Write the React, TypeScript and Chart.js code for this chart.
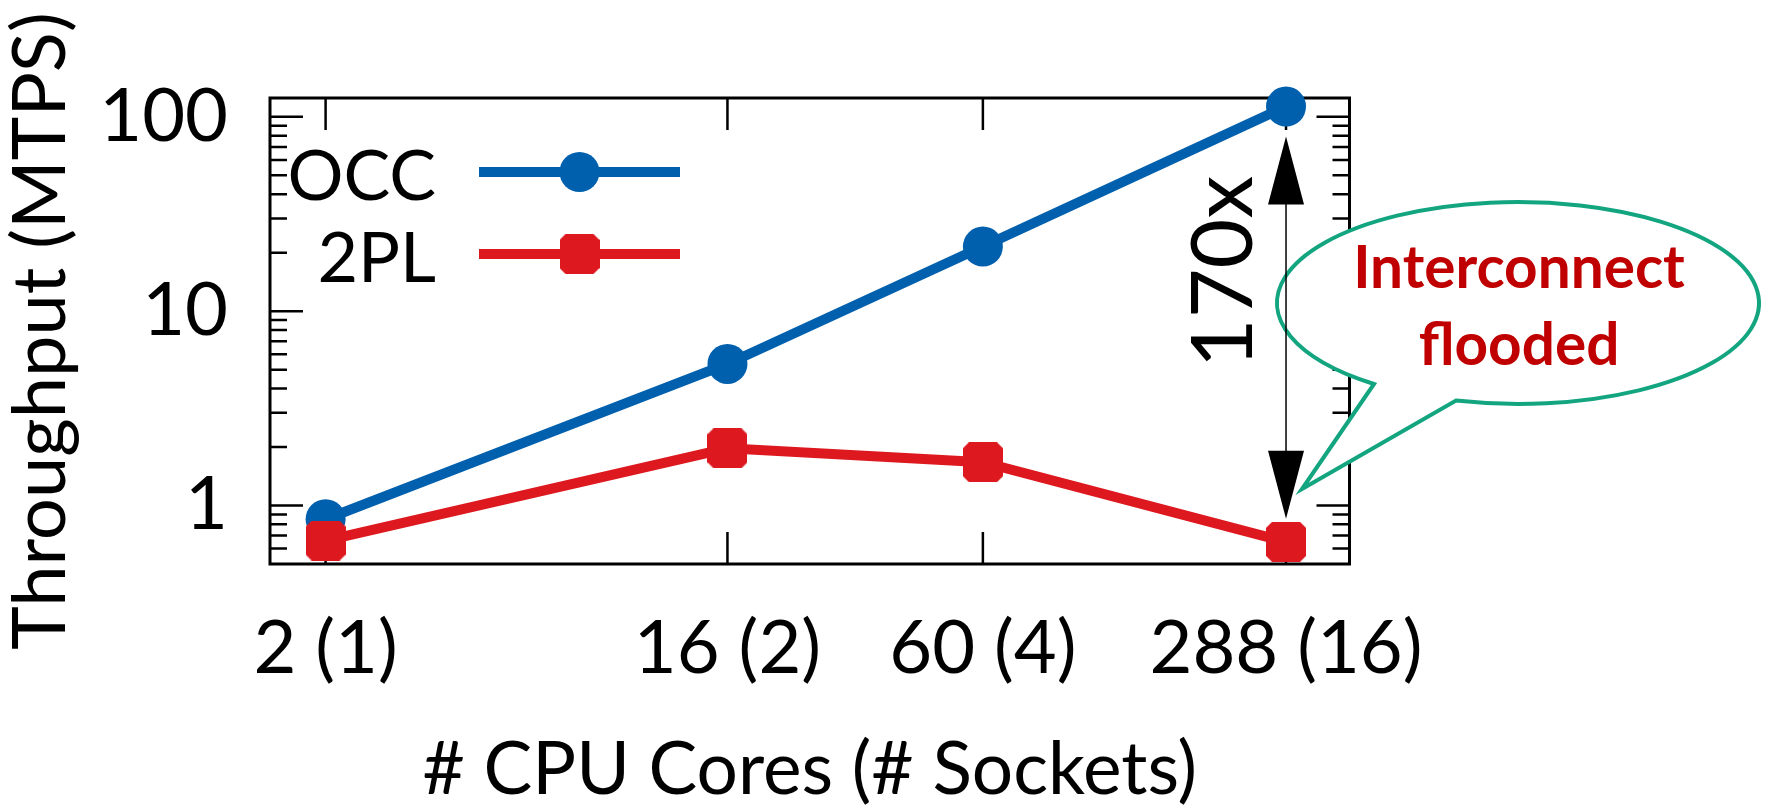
import { useEffect, useRef } from "react";
import { Chart, registerables } from "chart.js";

Chart.register(...registerables);

// Cores per configuration (x, log scale) and their tick labels
const CORES = [2, 16, 60, 288];
const CORE_LABELS = ["2 (1)", "16 (2)", "60 (4)", "288 (16)"];

// Throughput in million transactions per second
const OCC = [0.85, 5.35, 21.5, 113];
const TWO_PL = [0.66, 1.97, 1.67, 0.65];

const Y_TICKS = [1, 10, 100];
const Y_TICK_LABELS = ["1", "10", "100"];

const SERIES_NAMES = ["OCC", "2PL"];
const SPEEDUP_LABEL = "170x";
const CALLOUT_LINES = ["Interconnect", "flooded"];

const X_TITLE = "# CPU Cores (# Sockets)";
const Y_TITLE = "Throughput (MTPS)";

const BLUE = "#0060ad";
const RED = "#dd181f";
const CALLOUT_RED = "#c00000";
const CALLOUT_GREEN = "#13a57f";
const FONT = "Lato, 'Open Sans', sans-serif";

function makeSquareMarker(size: number, chamfer: number, color: string) {
  const c = document.createElement("canvas");
  c.width = size;
  c.height = size;
  const g = c.getContext("2d")!;
  g.fillStyle = color;
  g.beginPath();
  g.moveTo(chamfer, 0);
  g.lineTo(size - chamfer, 0);
  g.lineTo(size, chamfer);
  g.lineTo(size, size - chamfer);
  g.lineTo(size - chamfer, size);
  g.lineTo(chamfer, size);
  g.lineTo(0, size - chamfer);
  g.lineTo(0, chamfer);
  g.closePath();
  g.fill();
  return c;
}

function makeDecorPlugin(square: HTMLCanvasElement) {
  return {
    id: "decor",
    beforeDatasetsDraw(chart: any) {
      const { ctx, chartArea: a, scales } = chart;
      const x = scales.x;
      const y = scales.y;
      ctx.save();
      ctx.strokeStyle = "#000";
      ctx.lineWidth = 3;
      ctx.strokeRect(a.left, a.top, a.right - a.left, a.bottom - a.top);

      ctx.lineWidth = 2.5;
      ctx.beginPath();
      // major y ticks on both sides
      for (const v of Y_TICKS) {
        const py = y.getPixelForValue(v);
        ctx.moveTo(a.left, py);
        ctx.lineTo(a.left + 33, py);
        ctx.moveTo(a.right, py);
        ctx.lineTo(a.right - 33, py);
      }
      // minor y ticks
      for (const e of [-1, 0, 1, 2]) {
        for (let m = 2; m <= 9; m++) {
          const v = m * Math.pow(10, e);
          if (v <= y.min + 1e-9 || v >= y.max) continue;
          const py = y.getPixelForValue(v);
          ctx.moveTo(a.left, py);
          ctx.lineTo(a.left + 17, py);
          ctx.moveTo(a.right, py);
          ctx.lineTo(a.right - 17, py);
        }
      }
      // x ticks, bottom and top
      for (const v of CORES) {
        const px = x.getPixelForValue(v);
        ctx.moveTo(px, a.bottom);
        ctx.lineTo(px, a.bottom - 32);
        ctx.moveTo(px, a.top);
        ctx.lineTo(px, a.top + 32);
      }
      ctx.stroke();
      ctx.restore();
    },
    afterDatasetsDraw(chart: any) {
      const { ctx, scales } = chart;
      const x = scales.x;
      const y = scales.y;
      ctx.save();

      // legend
      const legendRows = [
        { name: SERIES_NAMES[0], color: BLUE, base: 200, line: 172, kind: "circle" },
        { name: SERIES_NAMES[1], color: RED, base: 282, line: 254, kind: "square" },
      ];
      ctx.font = `70px ${FONT}`;
      ctx.textAlign = "right";
      ctx.textBaseline = "alphabetic";
      for (const r of legendRows) {
        ctx.fillStyle = "#000";
        ctx.fillText(r.name, 436, r.base);
        ctx.strokeStyle = r.color;
        ctx.lineWidth = 10;
        ctx.beginPath();
        ctx.moveTo(479, r.line);
        ctx.lineTo(680, r.line);
        ctx.stroke();
        if (r.kind === "circle") {
          ctx.fillStyle = r.color;
          ctx.beginPath();
          ctx.arc(579.5, r.line, 20, 0, Math.PI * 2);
          ctx.fill();
        } else {
          ctx.drawImage(square, 579.5 - square.width / 2, r.line - square.height / 2);
        }
      }

      // speech bubble
      const cx = 1518;
      const cy = 303;
      const rx = 241;
      const ry = 101;
      const tA = (126.7 * Math.PI) / 180;
      const tB = (104.9 * Math.PI) / 180;
      ctx.beginPath();
      ctx.moveTo(1302, 489);
      ctx.lineTo(cx + rx * Math.cos(tB), cy + ry * Math.sin(tB));
      ctx.ellipse(cx, cy, rx, ry, 0, tB, tA, true);
      ctx.closePath();
      ctx.fillStyle = "#fff";
      ctx.fill();
      ctx.strokeStyle = CALLOUT_GREEN;
      ctx.lineWidth = 4;
      ctx.lineJoin = "miter";
      ctx.stroke();

      ctx.fillStyle = CALLOUT_RED;
      ctx.font = `bold 58.5px ${FONT}`;
      ctx.textAlign = "center";
      ctx.fillText(CALLOUT_LINES[0], 1519, 288);
      ctx.fillText(CALLOUT_LINES[1], 1519, 365);

      // double-headed arrow between the two 288-core points
      const ax = x.getPixelForValue(CORES[3]);
      const yTop = y.getPixelForValue(OCC[3]) + 30;
      const yBot = y.getPixelForValue(TWO_PL[3]) - 23;
      ctx.strokeStyle = "#000";
      ctx.fillStyle = "#000";
      ctx.lineWidth = 1.5;
      ctx.beginPath();
      ctx.moveTo(ax, yTop + 10);
      ctx.lineTo(ax, yBot - 10);
      ctx.stroke();
      ctx.beginPath();
      ctx.moveTo(ax, yTop);
      ctx.lineTo(ax - 18, yTop + 68);
      ctx.lineTo(ax + 18, yTop + 68);
      ctx.closePath();
      ctx.fill();
      ctx.beginPath();
      ctx.moveTo(ax, yBot);
      ctx.lineTo(ax - 18, yBot - 68);
      ctx.lineTo(ax + 18, yBot - 68);
      ctx.closePath();
      ctx.fill();

      // speed-up label, rotated
      ctx.translate(1252, 272);
      ctx.rotate(-Math.PI / 2);
      ctx.font = `86px ${FONT}`;
      ctx.textAlign = "center";
      ctx.textBaseline = "alphabetic";
      ctx.fillText(SPEEDUP_LABEL, 0, 0);
      ctx.restore();
    },
  };
}

export default function App() {
  const ref = useRef<HTMLCanvasElement>(null);

  useEffect(() => {
    const canvas = ref.current!;
    const square = makeSquareMarker(40, 6, RED);
    const chart = new Chart(canvas, {
      type: "line",
      data: {
        datasets: [
          {
            label: SERIES_NAMES[0],
            data: CORES.map((c, i) => ({ x: c, y: OCC[i] })),
            borderColor: BLUE,
            backgroundColor: BLUE,
            borderWidth: 10,
            pointStyle: "circle",
            pointRadius: 20,
            pointBorderWidth: 0,
            pointBackgroundColor: BLUE,
            tension: 0,
            clip: false,
            order: 1,
          } as any,
          {
            label: SERIES_NAMES[1],
            data: CORES.map((c, i) => ({ x: c, y: TWO_PL[i] })),
            borderColor: RED,
            backgroundColor: RED,
            borderWidth: 10,
            pointStyle: square,
            pointRadius: 20,
            pointBorderWidth: 0,
            pointBackgroundColor: RED,
            tension: 0,
            clip: false,
            order: 0,
          } as any,
        ],
      },
      options: {
        responsive: false,
        animation: false,
        devicePixelRatio: 1,
        events: [],
        layout: { padding: { top: 98, right: 416.5, left: 0, bottom: 0 } },
        plugins: { legend: { display: false }, tooltip: { enabled: false } },
        scales: {
          x: {
            type: "logarithmic",
            position: "bottom",
            min: 1.5,
            max: 400,
            grid: { display: false, drawTicks: false },
            border: { display: false },
            afterBuildTicks: (s: any) => {
              s.ticks = CORES.map((v) => ({ value: v }));
            },
            afterFit: (s: any) => {
              s.height = 248;
            },
            ticks: {
              autoSkip: false,
              maxRotation: 0,
              padding: 41,
              color: "#000",
              font: { family: FONT, size: 74, lineHeight: 1.2 },
              callback: (_v: any, i: number) => CORE_LABELS[i],
            },
            title: {
              display: true,
              text: X_TITLE,
              color: "#000",
              font: { family: FONT, size: 73, lineHeight: 1 },
              padding: { top: 0, bottom: 5.5 },
            },
          },
          y: {
            type: "logarithmic",
            position: "left",
            min: 0.5,
            max: 125,
            grid: { display: false, drawTicks: false },
            border: { display: false },
            afterBuildTicks: (s: any) => {
              s.ticks = Y_TICKS.map((v) => ({ value: v }));
            },
            afterFit: (s: any) => {
              s.width = 270;
            },
            ticks: {
              autoSkip: false,
              padding: 42,
              color: "#000",
              font: { family: FONT, size: 74, lineHeight: 1.2 },
              callback: (_v: any, i: number) => Y_TICK_LABELS[i],
            },
            title: {
              display: true,
              text: Y_TITLE,
              color: "#000",
              font: { family: FONT, size: 74, lineHeight: 1 },
              padding: { top: 4.5, bottom: 0 },
            },
          },
        },
      } as any,
      plugins: [makeDecorPlugin(square)],
    });
    return () => chart.destroy();
  }, []);

  return (
    <div
      style={{
        position: "fixed",
        left: 0,
        top: 0,
        width: 1766,
        height: 812,
        background: "#fff",
      }}
    >
      <canvas
        ref={ref}
        width={1766}
        height={812}
        style={{ display: "block", width: 1766, height: 812 }}
      />
    </div>
  );
}
